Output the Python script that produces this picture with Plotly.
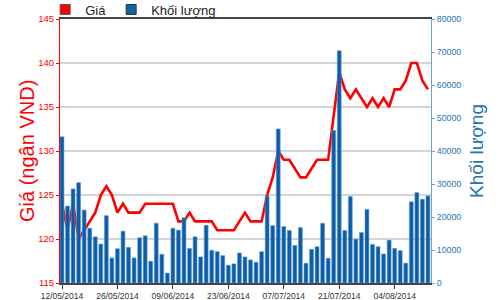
import plotly.graph_objects as go

dates = [
    "12/05/2014", "13/05/2014", "14/05/2014", "15/05/2014", "16/05/2014",
    "19/05/2014", "20/05/2014", "21/05/2014", "22/05/2014", "23/05/2014",
    "26/05/2014", "27/05/2014", "28/05/2014", "29/05/2014", "30/05/2014",
    "02/06/2014", "03/06/2014", "04/06/2014", "05/06/2014", "06/06/2014",
    "09/06/2014", "10/06/2014", "11/06/2014", "12/06/2014", "13/06/2014",
    "16/06/2014", "17/06/2014", "18/06/2014", "19/06/2014", "20/06/2014",
    "23/06/2014", "24/06/2014", "25/06/2014", "26/06/2014", "27/06/2014",
    "30/06/2014", "01/07/2014", "02/07/2014", "03/07/2014", "04/07/2014",
    "07/07/2014", "08/07/2014", "09/07/2014", "10/07/2014", "11/07/2014",
    "14/07/2014", "15/07/2014", "16/07/2014", "17/07/2014", "18/07/2014",
    "21/07/2014", "22/07/2014", "23/07/2014", "24/07/2014", "25/07/2014",
    "28/07/2014", "29/07/2014", "30/07/2014", "31/07/2014", "01/08/2014",
    "04/08/2014", "05/08/2014", "06/08/2014", "07/08/2014", "08/08/2014",
    "11/08/2014", "12/08/2014",
]

price = [
    124, 121, 124, 120, 121, 122, 123, 125, 126, 125,
    123, 124, 123, 123, 123, 124, 124, 124, 124, 124,
    124, 122, 122, 123, 122, 122, 122, 122, 121, 121,
    121, 121, 122, 123, 122, 122, 122, 125, 127, 130,
    129, 129, 128, 127, 127, 128, 129, 129, 129, 134,
    139, 137, 136, 137, 136, 135, 136, 135, 136, 135,
    137, 137, 138, 140, 140, 138, 137,
]

volume = [
    44300, 23300, 28500, 30400, 22100, 16600, 14000, 11800, 20400, 7600,
    10400, 15700, 10800, 7600, 13700, 14300, 6600, 18100, 8700, 3000,
    16600, 16000, 19800, 10500, 14000, 7900, 17500, 9900, 9500, 8300,
    5400, 5800, 9100, 7900, 7000, 6300, 9500, 26400, 17400, 46700,
    17100, 15900, 11400, 16800, 6000, 10200, 11000, 18100, 7500, 46200,
    70400, 15900, 26200, 13300, 15300, 22300, 11700, 11000, 8800, 13000,
    10500, 9800, 6000, 24600, 27400, 25400, 26400,
]

tick_dates = ["12/05/2014", "26/05/2014", "09/06/2014", "23/06/2014",
              "07/07/2014", "21/07/2014", "04/08/2014"]

name_price = "Giá"
name_vol = "Khối lượng"
title_left = "Giá (ngân VND)"
title_right = "Khối lượng"

RED = "#ff0000"
BLUE = "#0d5ca6"
BLUE_TXT = "#1f74b4"
FONT = "Liberation Sans, Arial, sans-serif"

fig = go.Figure()

fig.add_trace(go.Bar(
    x=dates, y=volume, name=name_vol, yaxis="y2", showlegend=False,
    marker=dict(color=BLUE, line=dict(color="#5d9ad6", width=0.6)),
    width=0.7,
))
fig.add_trace(go.Scatter(
    x=dates, y=price, name=name_price, mode="lines", yaxis="y",
    line=dict(color=RED, width=2.6), showlegend=False,
))
# legend entries (square swatches)
fig.add_trace(go.Scatter(
    x=[None], y=[None], name=name_price, mode="markers",
    marker=dict(symbol="square", size=10, color=RED, line=dict(color="#555", width=1)),
))
fig.add_trace(go.Scatter(
    x=[None], y=[None], name=name_vol, mode="markers",
    marker=dict(symbol="square", size=10, color="#0a64a8", line=dict(color="#333", width=1)),
))

fig.update_layout(
    width=500, height=300,
    margin=dict(l=60, r=69, t=19, b=17, autoexpand=False),
    paper_bgcolor="white", plot_bgcolor="white",
    font=dict(family=FONT),
    barmode="overlay",
    xaxis=dict(
        type="category", range=[-0.36, 66.55],
        tickmode="array", tickvals=tick_dates, ticktext=tick_dates,
        tickfont=dict(size=8.5, color="#333"),
        ticks="outside", ticklen=4, tickcolor="#333",
        showline=True, linecolor="#444", linewidth=1.5, mirror=True,
        showgrid=False, zeroline=False,
    ),
    yaxis=dict(
        range=[115, 145], dtick=5,
        tickfont=dict(size=9.5, color=RED),
        ticks="outside", ticklen=3, tickcolor=RED,
        showline=True, linecolor=RED, linewidth=1,
        gridcolor="#d4d4d4", gridwidth=1.5, zeroline=False,
    ),
    yaxis2=dict(
        range=[0, 80000], dtick=10000, overlaying="y", side="right",
        tickformat="d",
        tickfont=dict(size=8.8, color=BLUE_TXT),
        ticks="outside", ticklen=3, tickcolor="#6aa3cf",
        showline=True, linecolor="#6aa3cf", linewidth=1,
        showgrid=False, zeroline=False,
    ),
    legend=dict(
        orientation="h", x=-0.04, xanchor="left", y=1.036, yanchor="middle",
        font=dict(size=13, color="#222"), bgcolor="rgba(0,0,0,0)",
        borderwidth=0, itemwidth=30, tracegroupgap=0,
    ),
    annotations=[
        dict(text=title_left, textangle=-90, xref="paper", yref="paper",
             x=-0.089, y=0.5, xanchor="center", yanchor="middle", showarrow=False,
             font=dict(size=20, color=RED)),
        dict(text=title_right, textangle=-90, xref="paper", yref="paper",
             x=1.121, y=0.5, xanchor="center", yanchor="middle", showarrow=False,
             font=dict(size=19, color=BLUE_TXT)),
    ],
)

fig.write_html("out.html")
